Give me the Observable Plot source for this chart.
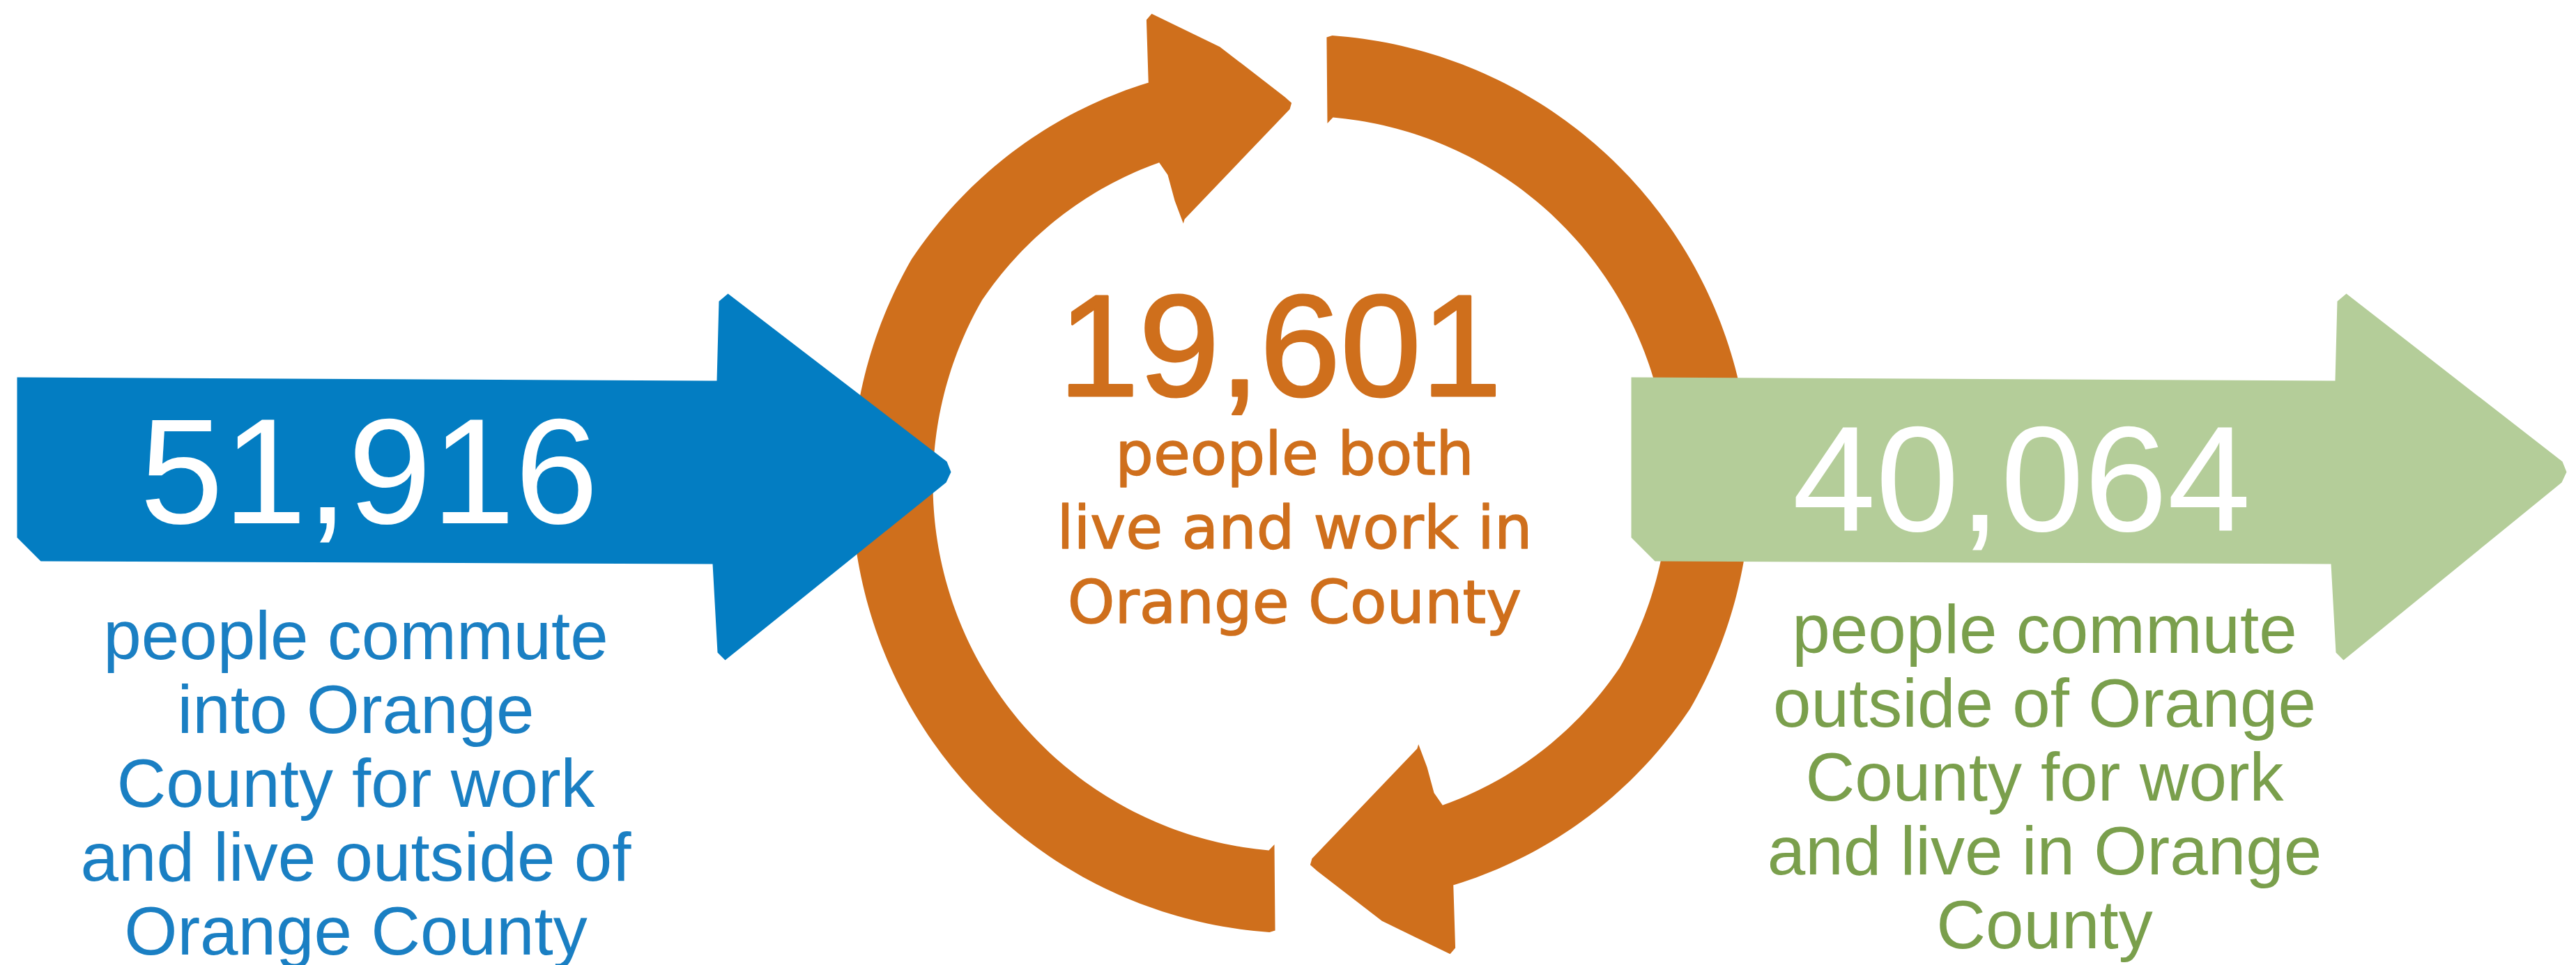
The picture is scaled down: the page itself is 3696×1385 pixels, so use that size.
<!DOCTYPE html>
<html>
<head>
<meta charset="utf-8">
<script src="https://cdn.jsdelivr.net/npm/d3@7"></script>
<script src="https://cdn.jsdelivr.net/npm/@observablehq/plot@0.6"></script>
<style>
  html, body { margin: 0; padding: 0; background: #ffffff; }
  #chart svg { display: block; }
</style>
</head>
<body>
<div id="chart"></div>
<script>
// ---------------- DATA ----------------
const groups = ["commute in", "live and work", "commute out"];
const values = [51916, 19601, 40064];
const descInto = ["people commute", "into Orange", "County for work", "and live outside of", "Orange County"];
const descBoth = ["people both", "live and work in", "Orange County"];
const descOut = ["people commute", "outside of Orange", "County for work", "and live in Orange", "County"];
const shapeColors = ["#037dc2", "#cf6f1c", "#b4cd99"];
const textColors = ["#1a7fc3", "#cf6f1c", "#7a9f4c"];

// ---------------- LAYOUT ----------------
const W = 3696, H = 1385;
const C = [1866, 694];              // centre of the circular arrows
const polar = (r, deg) => {
  const t = deg * Math.PI / 180;
  return [C[0] + r * Math.sin(t), C[1] - r * Math.cos(t)];
};

// one curved arrow (tail at bottom, head at top), rotated by `rot` degrees
function ringArrow(rot) {
  const pts = [];
  const rOut = a => a <= 300 ? 645 : 645 - 29 * (a - 300) / 39.2;
  const rIn = a => a <= 300 ? 528 : 528 - 24 * (a - 300) / 36.2;
  pts.push([642, 183.3]);
  for (let a = 184; a <= 339; a += 1) pts.push([rOut(a), a]);
  pts.push([616, 339.2]);
  pts.push([702, 341.6]);
  pts.push([708, 342.4]);
  pts.push([638, 349.5]);
  pts.push([556, 357.6]);
  pts.push([547, 358.6]);
  pts.push([538, 358.3]);
  pts.push([415, 336.3]);
  pts.push([410, 335.7]);
  pts.push([445, 336.0]);
  pts.push([483, 336.7]);
  pts.push([504, 336.2]);
  for (let a = 336; a >= 185; a -= 1) pts.push([rIn(a), a]);
  pts.push([519, 184.2]);
  return pts.map(([r, a]) => polar(r, a + rot));
}

// one straight block arrow, shaft starting at x0
function straightArrow(x0, len, tip) {
  const xb = x0 + len, xt = xb + tip;
  return [[x0, 541], [xb, 546], [xb + 3, 432], [xb + 16, 421], [xt - 6, 662], [xt, 677],
          [xt - 7, 692], [xb + 12, 947], [xb + 1, 936], [xb - 6, 809], [x0 + 34, 805], [x0, 771]];
}

const ringShapes = [ringArrow(0), ringArrow(180)];
const blueShape = straightArrow(24, 1004, 336);
const greenShape = straightArrow(2340, 1010, 332);

const shapeMark = (pts, color) =>
  Plot.line(pts, {x: d => d[0], y: d => d[1], fill: color, stroke: "none", curve: "linear-closed"});

// text rows
const numberRows = groups.map((g, i) => ({
  group: g, label: d3.format(",")(values[i]),
  x: [529, 1836, 2900][i], y: [750, 567, 761][i]
}));
const descRows = [
  {text: descInto.join("\n"), x: 510, y: 1369, fill: textColors[0]},
  {text: descOut.join("\n"), x: 2933, y: 1360, fill: textColors[2]}
];
const centreRow = [{text: descBoth.join("\n"), x: 1857, y: 893}];

const chart = Plot.plot({
  width: W,
  height: H,
  margin: 0,
  x: {domain: [0, W], range: [0, W], axis: null},
  y: {domain: [0, H], range: [0, H], axis: null},
  style: {background: "#ffffff"},
  marks: [
    shapeMark(ringShapes[0], shapeColors[1]),
    shapeMark(ringShapes[1], shapeColors[1]),
    shapeMark(blueShape, shapeColors[0]),
    shapeMark(greenShape, shapeColors[2]),
    Plot.text(numberRows.filter(d => d.group !== "live and work"), {
      x: "x", y: "y", text: "label", fill: "#ffffff",
      fontSize: 215, fontFamily: "Liberation Sans, Arial, sans-serif",
      textAnchor: "middle", lineAnchor: "bottom"
    }),
    Plot.text(numberRows.filter(d => d.group === "live and work"), {
      x: "x", y: "y", text: "label", fill: textColors[1],
      stroke: textColors[1], strokeWidth: 3, strokeLinejoin: "round",
      fontSize: 208, fontFamily: "Liberation Sans, Arial, sans-serif",
      textAnchor: "middle", lineAnchor: "bottom"
    }),
    Plot.text(descRows, {
      x: "x", y: "y", text: "text", fill: d => d.fill,
      fontSize: 98, lineHeight: 1.08, fontFamily: "Liberation Sans, Arial, sans-serif",
      textAnchor: "middle", lineAnchor: "bottom"
    }),
    Plot.text(centreRow, {
      x: "x", y: "y", text: "text", fill: textColors[1],
      stroke: textColors[1], strokeWidth: 1.5, strokeLinejoin: "round",
      fontSize: 86, lineHeight: 1.238, fontFamily: "DejaVu Sans, sans-serif",
      textAnchor: "middle", lineAnchor: "bottom"
    })
  ]
});
document.getElementById("chart").appendChild(chart);
</script>
</body>
</html>
